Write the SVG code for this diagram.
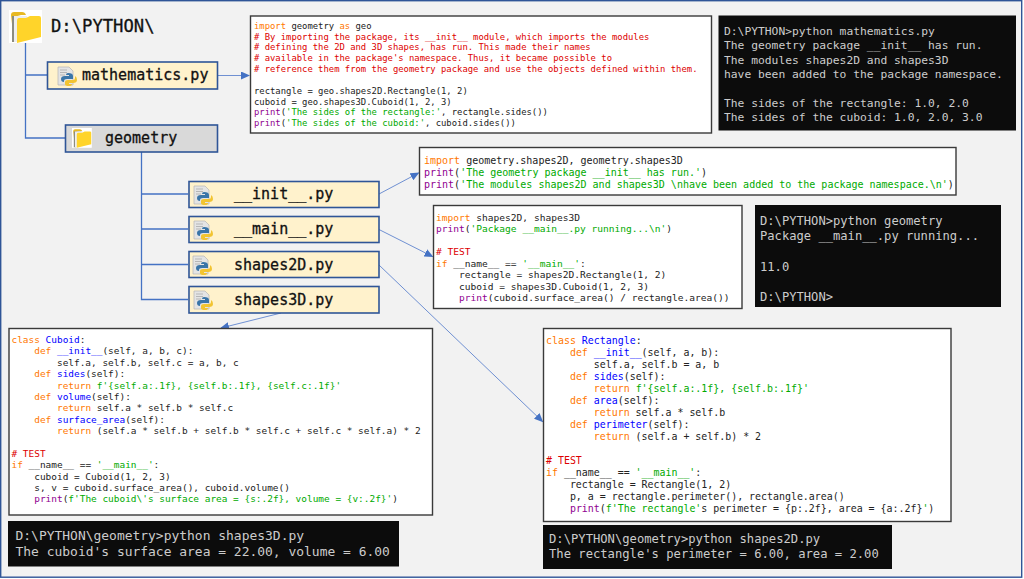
<svg xmlns="http://www.w3.org/2000/svg" width="1024" height="579" viewBox="0 0 1024 579">
<style>
text{font-family:"DejaVu Sans Mono","Liberation Mono",monospace;white-space:pre;fill:#222}
.n{fill:#fff2cc;stroke:#2f5597;stroke-width:1.6}
.g{fill:#d9d9d9;stroke:#2f5597;stroke-width:1.6}
.c{fill:#fff;stroke:#3a3a3a;stroke-width:1.4}
.t{fill:#0c0c0c}
.l{font-size:15px;fill:#111;stroke:#111;stroke-width:.3}
.tt text{fill:#ccc}
.k{fill:#ff7700}.r{fill:#dd0000}.s{fill:#00aa00}.p{fill:#900090}.b{fill:#0000ff}
.tree{fill:none;stroke:#4472c4;stroke-width:1.3}
.arr{fill:none;stroke:#6f90d2;stroke-width:1;marker-end:url(#ah)}
</style>
<defs>
<marker id="ah" markerWidth="9" markerHeight="8" refX="8" refY="4" orient="auto" markerUnits="userSpaceOnUse"><path d="M0 0L9 4L0 8Z" fill="#4472c4"/></marker>
<g id="folder">
<rect x="0" y="0" width="33" height="33" fill="#fff"/>
<path d="M2 5Q2 2 5 2H13Q16 2 17 5H12L5 7V32Z" fill="#e8b923"/>
<path d="M3 6L16 6L16 8L7 32L3 32Z" fill="#8c8c80"/>
<path d="M5 6H18V9L8 32H5Z" fill="#eee"/>
<path d="M8 32V11Q8 8 10 8H17L21 6H30Q32 6 32 8V27L8 33Z" fill="#ffd42a"/>
</g>
<g id="py">
<path d="M0 0H11L15 4V18H0Z" fill="#e4e4e4" stroke="#b5b5b5" stroke-width=".7"/>
<path d="M2 3H9M2 5.5H9M2 8H7" stroke="#aaa" stroke-width=".8"/>
<path d="M10 6Q15 6 15 9V12H9Q6 12 6 14V15Q3 15 3 12Q3 9 7 9H11V8H8Q8 6 10 6Z" fill="#3a75a8"/>
<path d="M17 9Q19 10 19 13Q19 16 15 16H11V17H14Q14 19 11 19Q7 19 7 17V15Q7 13 10 13H15Q17 13 17 11Z" fill="#f2c431"/>
</g>
</defs>
<rect x="0.7" y="0.7" width="1021" height="576.5" fill="#f2f2f2" stroke="#2f5597" stroke-width="1.4"/>

<g id="connectors">
<path class="tree" d="M25.5 43V138H65M25.5 75H47"/>
<path class="tree" d="M141.5 152V299.5H188M141.5 194H188M141.5 229H188M141.5 264.5H188"/>
<path class="arr" d="M218 75.5H249"/>
<path class="arr" d="M379 194L418.5 173"/>
<path class="arr" d="M379 229.5L432.5 256.5"/>
<path class="arr" d="M379 265L542.5 421.5"/>
<path class="arr" d="M281 313L221 328"/>
</g>

<g id="root"><use href="#folder" transform="translate(9 10)"/><text x="51" y="32" style="font-size:17.2px;fill:#111;stroke:#111;stroke-width:.3">D:\PYTHON\</text></g>
<g id="mathematics"><rect class="n" x="47.5" y="62" width="170" height="27"/><use href="#py" transform="translate(58 67)"/><text class="l" x="82" y="80">mathematics.py</text></g>
<g id="geometry"><rect class="g" x="65.5" y="125" width="152" height="27"/><g transform="translate(72 128) scale(.6)"><use href="#folder"/></g><text class="l" x="105" y="143">geometry</text></g>
<g id="init"><rect class="n" x="189" y="181.5" width="190" height="26"/><use href="#py" transform="translate(194 186)"/><text class="l" x="234" y="199">__init__.py</text></g>
<g id="main"><rect class="n" x="189" y="216.5" width="190" height="26"/><use href="#py" transform="translate(194 221)"/><text class="l" x="234" y="234">__main__.py</text></g>
<g id="shapes2D"><rect class="n" x="189" y="251.5" width="190" height="26"/><use href="#py" transform="translate(193 256)"/><text class="l" x="234" y="270">shapes2D.py</text></g>
<g id="shapes3D"><rect class="n" x="189" y="286.5" width="190" height="26.5"/><use href="#py" transform="translate(194 291)"/><text class="l" x="234" y="305">shapes3D.py</text></g>

<g id="code-mathematics" style="font-size:8.9px"><rect class="c" x="250.5" y="16" width="461" height="117"/>
<text x="254" y="29"><tspan class="k">import</tspan> geometry <tspan class="k">as</tspan> geo</text>
<text class="r" x="254" y="39.6"># By importing the package, its __init__ module, which imports the modules</text>
<text class="r" x="254" y="50.3"># defining the 2D and 3D shapes, has run. This made their names</text>
<text class="r" x="254" y="61.3"># available in the package's namespace. Thus, it became possible to</text>
<text class="r" x="254" y="72.3"># reference them from the geometry package and use the objects defined within them.</text>
<text x="254" y="94">rectangle = geo.shapes2D.Rectangle(1, 2)</text>
<text x="254" y="104.6">cuboid = geo.shapes3D.Cuboid(1, 2, 3)</text>
<text x="254" y="115.3"><tspan class="p">print</tspan>(<tspan class="s">'The sides of the rectangle:'</tspan>, rectangle.sides())</text>
<text x="254" y="126.3"><tspan class="p">print</tspan>(<tspan class="s">'The sides of the cuboid:'</tspan>, cuboid.sides())</text>
</g>

<g id="term-mathematics" class="tt" style="font-size:11.3px"><rect class="t" x="718.5" y="15.5" width="297.5" height="115"/>
<text x="724" y="35">D:\PYTHON&gt;python mathematics.py</text>
<text x="724" y="49.3">The geometry package __init__ has run.</text>
<text x="724" y="63.6">The modules shapes2D and shapes3D</text>
<text x="724" y="77.9">have been added to the package namespace.</text>
<text x="724" y="106.5">The sides of the rectangle: 1.0, 2.0</text>
<text x="724" y="120.8">The sides of the cuboid: 1.0, 2.0, 3.0</text>
</g>

<g id="code-init" style="font-size:10px"><rect class="c" x="419.5" y="147.5" width="536.5" height="47.5"/>
<text x="424" y="164"><tspan class="k">import</tspan> geometry.shapes2D, geometry.shapes3D</text>
<text x="424" y="176"><tspan class="p">print</tspan>(<tspan class="s">'The geometry package __init__ has run.'</tspan>)</text>
<text x="424" y="188"><tspan class="p">print</tspan>(<tspan class="s">'The modules shapes2D and shapes3D \nhave been added to the package namespace.\n'</tspan>)</text>
</g>

<g id="code-main" style="font-size:9.57px"><rect class="c" x="433.5" y="205.5" width="308.5" height="103"/>
<text x="436" y="221"><tspan class="k">import</tspan> shapes2D, shapes3D</text>
<text x="436" y="232.4"><tspan class="p">print</tspan>(<tspan class="s">'Package __main__.py running...\n'</tspan>)</text>
<text class="r" x="436" y="255.3"># TEST</text>
<text x="436" y="266.7"><tspan class="k">if</tspan> __name__ == <tspan class="s">'__main__'</tspan>:</text>
<text x="436" y="278.2">    rectangle = shapes2D.Rectangle(1, 2)</text>
<text x="436" y="289.6">    cuboid = shapes3D.Cuboid(1, 2, 3)</text>
<text x="436" y="301">    <tspan class="p">print</tspan>(cuboid.surface_area() / rectangle.area())</text>
</g>

<g id="term-main" class="tt" style="font-size:12.13px"><rect class="t" x="755" y="205" width="246" height="102"/>
<text x="760" y="224.5">D:\PYTHON&gt;python geometry</text>
<text x="760" y="239.8">Package __main__.py running...</text>
<text x="760" y="270.5">11.0</text>
<text x="760" y="301">D:\PYTHON&gt;</text>
</g>

<g id="code-cuboid" style="font-size:9.45px"><rect class="c" x="9" y="328.5" width="423.5" height="186.5"/>
<text x="11.5" y="343"><tspan class="k">class</tspan> <tspan class="b">Cuboid</tspan>:</text>
<text x="11.5" y="354.4">    <tspan class="k">def</tspan> <tspan class="b">__init__</tspan>(self, a, b, c):</text>
<text x="11.5" y="365.8">        self.a, self.b, self.c = a, b, c</text>
<text x="11.5" y="377.1">    <tspan class="k">def</tspan> <tspan class="b">sides</tspan>(self):</text>
<text x="11.5" y="388.5">        <tspan class="k">return</tspan> <tspan class="s">f'{self.a:.1f}, {self.b:.1f}, {self.c:.1f}'</tspan></text>
<text x="11.5" y="399.9">    <tspan class="k">def</tspan> <tspan class="b">volume</tspan>(self):</text>
<text x="11.5" y="411.3">        <tspan class="k">return</tspan> self.a * self.b * self.c</text>
<text x="11.5" y="422.7">    <tspan class="k">def</tspan> <tspan class="b">surface_area</tspan>(self):</text>
<text x="11.5" y="434">        <tspan class="k">return</tspan> (self.a * self.b + self.b * self.c + self.c * self.a) * 2</text>
<text class="r" x="11.5" y="456.8"># TEST</text>
<text x="11.5" y="468.2"><tspan class="k">if</tspan> __name__ == <tspan class="s">'__main__'</tspan>:</text>
<text x="11.5" y="479.6">    cuboid = Cuboid(1, 2, 3)</text>
<text x="11.5" y="491">    s, v = cuboid.surface_area(), cuboid.volume()</text>
<text x="11.5" y="502.3">    <tspan class="p">print</tspan>(<tspan class="s">f'The cuboid\'s surface area = {s:.2f}, volume = {v:.2f}'</tspan>)</text>
</g>

<g id="term-cuboid" class="tt" style="font-size:12.96px"><rect class="t" x="8" y="521" width="391" height="45.5"/>
<text x="15.5" y="540">D:\PYTHON\geometry&gt;python shapes3D.py</text>
<text x="15.5" y="556">The cuboid's surface area = 22.00, volume = 6.00</text>
</g>

<g id="code-rectangle" style="font-size:9.93px"><rect class="c" x="543.5" y="328.5" width="407.5" height="193"/>
<text x="546" y="343.5"><tspan class="k">class</tspan> <tspan class="b">Rectangle</tspan>:</text>
<text x="546" y="355.5">    <tspan class="k">def</tspan> <tspan class="b">__init__</tspan>(self, a, b):</text>
<text x="546" y="367.5">        self.a, self.b = a, b</text>
<text x="546" y="379.5">    <tspan class="k">def</tspan> <tspan class="b">sides</tspan>(self):</text>
<text x="546" y="391.5">        <tspan class="k">return</tspan> <tspan class="s">f'{self.a:.1f}, {self.b:.1f}'</tspan></text>
<text x="546" y="403.5">    <tspan class="k">def</tspan> <tspan class="b">area</tspan>(self):</text>
<text x="546" y="415.5">        <tspan class="k">return</tspan> self.a * self.b</text>
<text x="546" y="427.5">    <tspan class="k">def</tspan> <tspan class="b">perimeter</tspan>(self):</text>
<text x="546" y="439.5">        <tspan class="k">return</tspan> (self.a + self.b) * 2</text>
<text class="r" x="546" y="463.5"># TEST</text>
<text x="546" y="475.5"><tspan class="k">if</tspan> __name__ == <tspan class="s">'__main__'</tspan>:</text>
<text x="546" y="487.5">    rectangle = Rectangle(1, 2)</text>
<text x="546" y="499.5">    p, a = rectangle.perimeter(), rectangle.area()</text>
<text x="546" y="511.5">    <tspan class="p">print</tspan>(<tspan class="s">f'The rectangle'</tspan>s perimeter = {p:.2f}, area = {a:.2f}<tspan class="s">'</tspan>)</text>
</g>

<g id="term-rectangle" class="tt" style="font-size:12.18px"><rect class="t" x="543" y="525" width="349" height="44"/>
<text x="549" y="542.5">D:\PYTHON\geometry&gt;python shapes2D.py</text>
<text x="549" y="558">The rectangle's perimeter = 6.00, area = 2.00</text>
</g>
</svg>
